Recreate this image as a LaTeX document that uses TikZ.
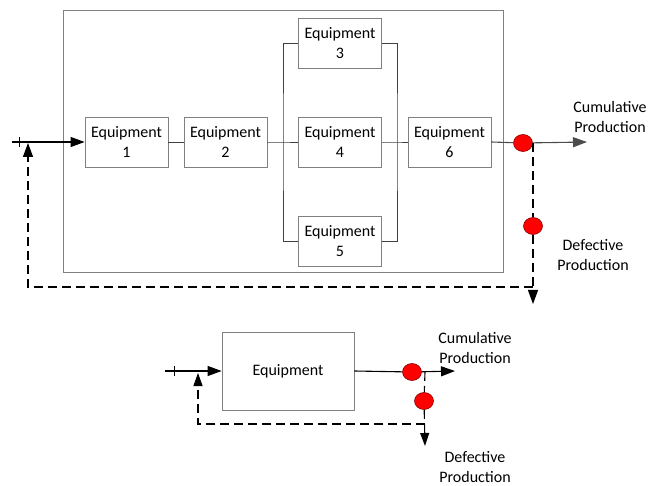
\documentclass[tikz,border=0pt]{standalone}
\usepackage{fontspec}
\setmainfont{Carlito}
\usetikzlibrary{arrows.meta,shapes.geometric}
\begin{document}
\begin{tikzpicture}[x=1pt,y=-1pt,
    equip/.style={draw=gray, line width=0.8pt, minimum width=83pt, minimum height=50pt,
      inner sep=0pt, align=center, font=\fontsize{16}{20}\selectfont},
    link/.style={draw=black!75, line width=0.9pt},
    flow/.style={line width=1.1pt, -{Triangle[length=14pt,width=10pt]}},
    fb/.style={line width=1.1pt, dash pattern=on 9pt off 5pt},
    sensor/.style={ellipse, fill=red, draw=red!55!black, line width=0.6pt,
      minimum width=19pt, minimum height=17pt, inner sep=0pt},
    lbl/.style={align=center, font=\fontsize{16}{20}\selectfont}]
  \useasboundingbox (0,0) rectangle (648,486);

  % whole line
  \node[draw=gray, line width=0.8pt, minimum width=440pt, minimum height=262pt] (plant) at (283,141) {};
  \node[equip] (e1) at (126.5,142) {Equipment\\1};
  \node[equip] (e2) at (225.5,142) {Equipment\\2};
  \node[equip] (e3) at (340,43)    {Equipment\\3};
  \node[equip] (e4) at (340,142)   {Equipment\\4};
  \node[equip] (e5) at (340,241)   {Equipment\\5};
  \node[equip] (e6) at (449.5,142) {Equipment\\6};
  \coordinate (split) at (283,142);
  \coordinate (merge) at (397,142);

  \draw[link] (e1) -- (e2);
  \draw[link] (e2) -- (split) -- (e4) -- (merge) -- (e6);
  \draw[link] (e3.west) -| (split) |- (e5.west);
  \draw[link] (e3.east) -| (merge) |- (e5.east);

  \coordinate (in) at (12,142);
  \draw[flow] (in) -- (e1.west);
  \draw[line width=1pt] (19,137) -- (19,147);

  \node[sensor] (s1) at (523,143) {};
  \node[sensor] (s2) at (533,226) {};
  \coordinate (out) at (587,142);
  \draw[flow, black!70] (e6.east) -- (s1) -- (out);
  \coordinate (tap) at (533,143);
  \coordinate (drop) at (533,304);
  \coordinate (back) at (28,287);
  \draw[fb, -{Triangle[length=14pt,width=10pt]}] (tap) -- (s2) -- (drop);
  \draw[fb, -{Triangle[length=14pt,width=10pt]}] (drop |- back) -- (back) -- (28,143);

  \node[lbl] (cum) at (610,117) {Cumulative\\Production};
  \node[lbl] (def) at (593,255) {Defective\\Production};

  % single equipment
  \node[equip, minimum width=132pt, minimum height=78pt] (eq) at (288,371) {Equipment};
  \coordinate (in2) at (165,371);
  \draw[flow] (in2) -- (eq.west);
  \draw[line width=1pt] (174,366) -- (174,376);

  \node[sensor] (s3) at (412,372) {};
  \node[sensor] (s4) at (424,401) {};
  \coordinate (out2) at (455,371);
  \draw[flow] (eq.east) -- (s3) -- (out2);
  \coordinate (tap2) at (425,372);
  \coordinate (drop2) at (425,446);
  \coordinate (back2) at (198,424);
  \draw[fb, -{Triangle[length=13pt,width=9pt]}] (tap2) -- (s4) -- (drop2);
  \draw[fb, -{Triangle[length=13pt,width=9pt]}] (drop2 |- back2) -- (back2) -- (198,373);

  \node[lbl] (cum2) at (475,348) {Cumulative\\Production};
  \node[lbl] (def2) at (475,467) {Defective\\Production};
\end{tikzpicture}
\end{document}
